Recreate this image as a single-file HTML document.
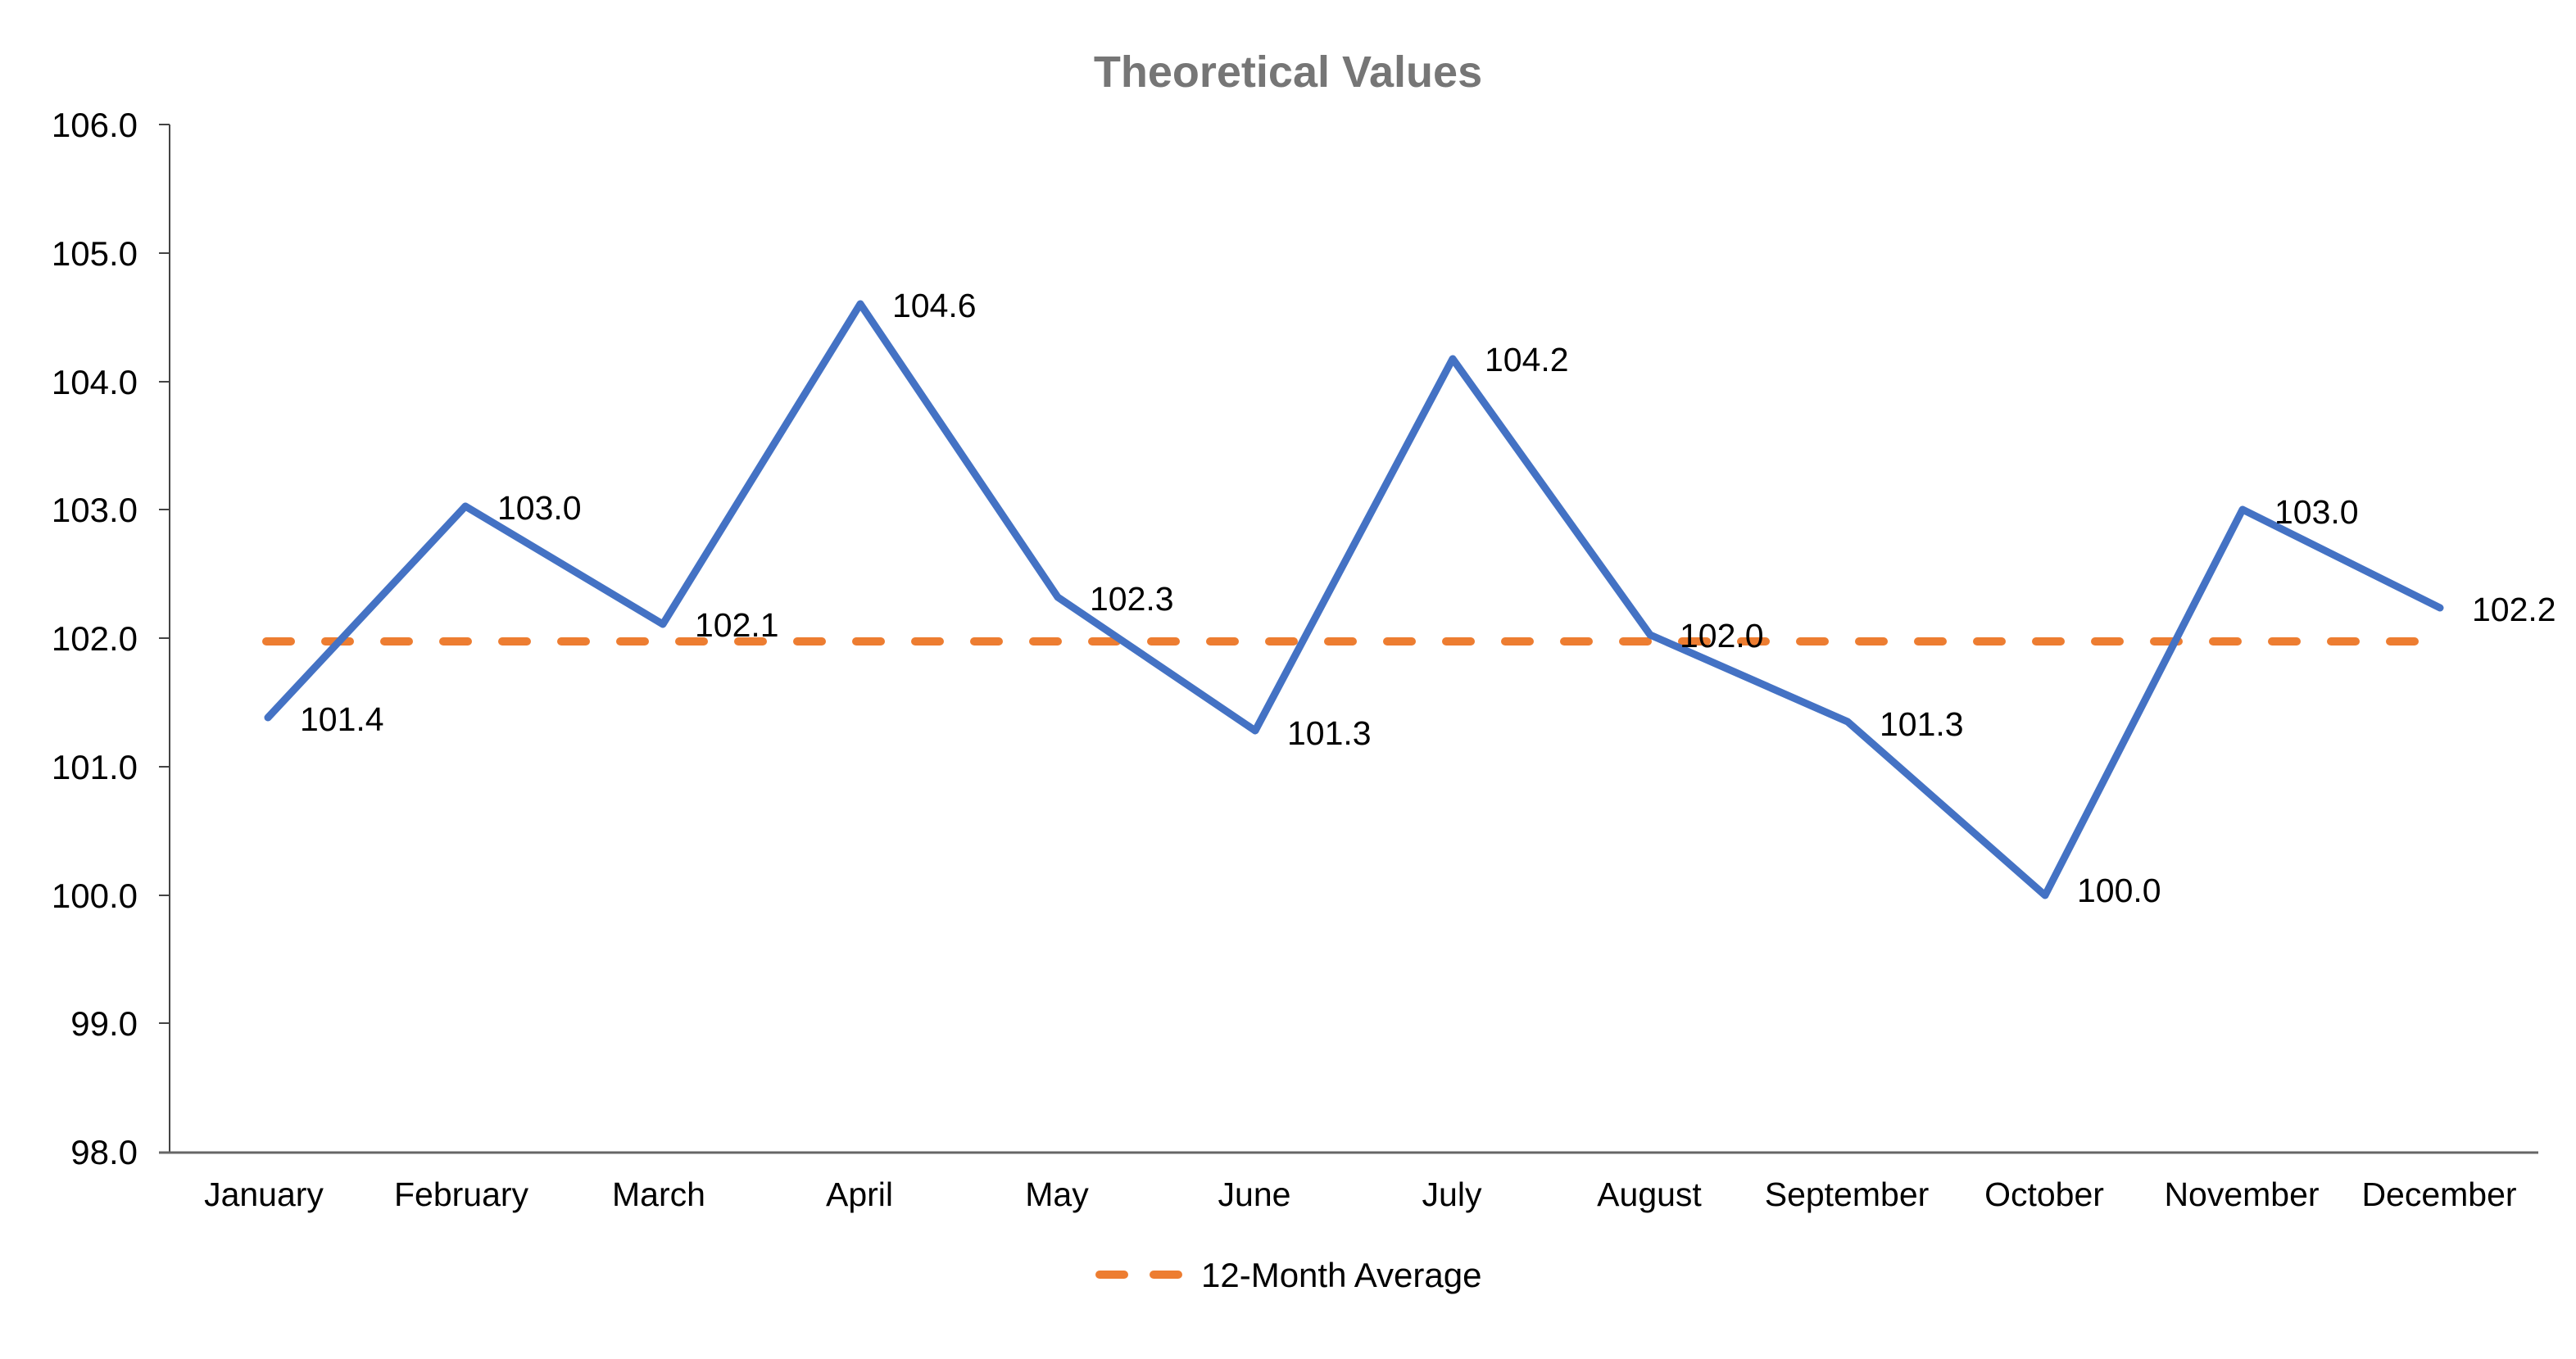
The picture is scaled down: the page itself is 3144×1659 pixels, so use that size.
<!DOCTYPE html>
<html><head><meta charset="utf-8"><style>html,body{margin:0;padding:0;background:#fff}svg{display:block}text{font-family:"Liberation Sans",Arial,sans-serif}</style></head>
<body>
<svg width="3144" height="1659" viewBox="0 0 3144 1659" xmlns="http://www.w3.org/2000/svg">
<text x="1572" y="106" text-anchor="middle" font-size="54" font-weight="bold" fill="#767676">Theoretical Values</text>
<g font-size="42" fill="#000" text-anchor="end">
<text x="168" y="167">106.0</text>
<text x="168" y="324">105.0</text>
<text x="168" y="481">104.0</text>
<text x="168" y="637">103.0</text>
<text x="168" y="794">102.0</text>
<text x="168" y="951">101.0</text>
<text x="168" y="1108">100.0</text>
<text x="168" y="1264">99.0</text>
<text x="168" y="1421">98.0</text>
</g>
<g stroke="#444" stroke-width="2">
<line x1="207" y1="152" x2="207" y2="1407"/>
<line x1="194" y1="1407" x2="3098" y2="1407" stroke-width="3" stroke="#666"/>
<line x1="194" y1="152" x2="207" y2="152"/><line x1="194" y1="309" x2="207" y2="309"/>
<line x1="194" y1="466" x2="207" y2="466"/><line x1="194" y1="622" x2="207" y2="622"/>
<line x1="194" y1="779" x2="207" y2="779"/><line x1="194" y1="936" x2="207" y2="936"/>
<line x1="194" y1="1093" x2="207" y2="1093"/><line x1="194" y1="1249" x2="207" y2="1249"/>
</g>
<g font-size="41" fill="#000" text-anchor="middle">
<text x="322" y="1472">January</text><text x="563" y="1472">February</text><text x="804" y="1472">March</text>
<text x="1049" y="1472">April</text><text x="1290" y="1472">May</text><text x="1531" y="1472">June</text>
<text x="1772" y="1472">July</text><text x="2013" y="1472">August</text><text x="2254" y="1472">September</text>
<text x="2495" y="1472">October</text><text x="2736" y="1472">November</text><text x="2977" y="1472">December</text>
</g>
<line x1="325" y1="783" x2="2968" y2="783" stroke="#ED7D31" stroke-width="10" stroke-linecap="round" stroke-dasharray="30 42"/>
<polyline fill="none" stroke="#4472C4" stroke-width="9" stroke-linejoin="round" stroke-linecap="round"
points="327,876 568,618 809,762 1050,371 1291,729 1532,892 1773,438 2014,775 2255,881 2496,1093 2737,622 2978,742"/>
<g font-size="41" fill="#000">
<text x="366" y="892">101.4</text><text x="607" y="634">103.0</text><text x="848" y="777">102.1</text>
<text x="1089" y="387">104.6</text><text x="1330" y="745">102.3</text><text x="1571" y="909">101.3</text>
<text x="1812" y="453">104.2</text><text x="2050" y="790">102.0</text><text x="2294" y="898">101.3</text>
<text x="2535" y="1101">100.0</text><text x="2776" y="639">103.0</text><text x="3017" y="758">102.2</text>
</g>
<line x1="1342" y1="1556" x2="1438" y2="1556" stroke="#ED7D31" stroke-width="10" stroke-linecap="round" stroke-dasharray="30 36"/>
<text x="1466" y="1571" font-size="42" fill="#000">12-Month Average</text>
</svg>
</body></html>
